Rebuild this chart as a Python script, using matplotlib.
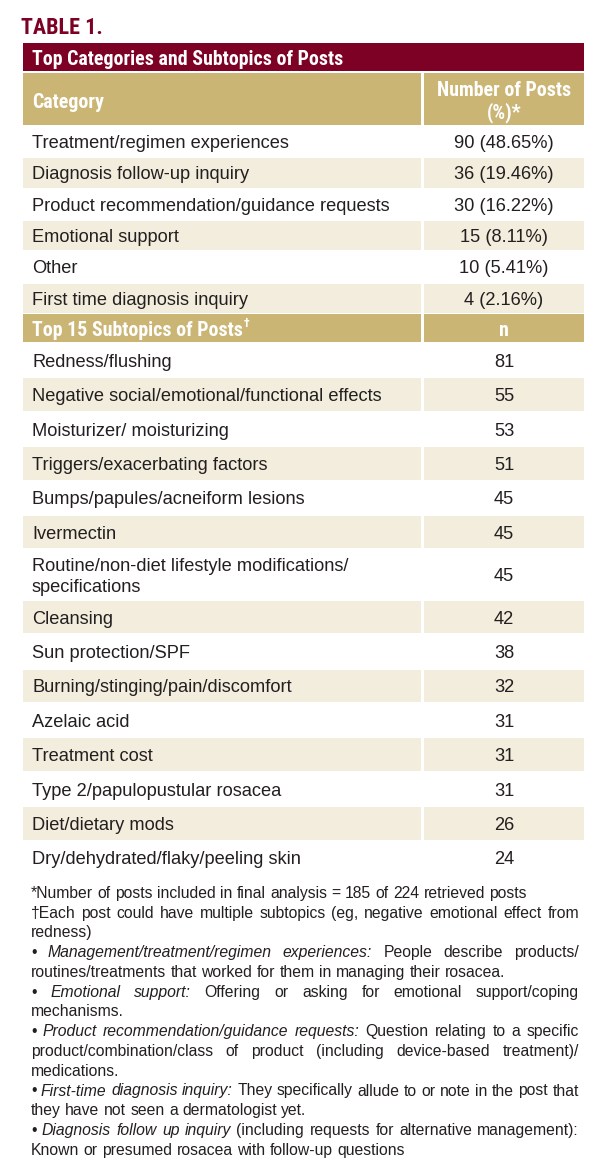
import matplotlib
matplotlib.use("Agg")
import matplotlib.pyplot as plt
from matplotlib import font_manager
from matplotlib.patches import Rectangle

title = "TABLE 1."
table_heading = "Top Categories and Subtopics of Posts"
category_header = ["Category", "Number of Posts", "(%)*"]
categories = [
    "Treatment/regimen experiences",
    "Diagnosis follow-up inquiry",
    "Product recommendation/guidance requests",
    "Emotional support",
    "Other",
    "First time diagnosis inquiry",
]
category_counts = [90, 36, 30, 15, 10, 4]
category_pcts = [48.65, 19.46, 16.22, 8.11, 5.41, 2.16]

subtopic_header = ["Top 15 Subtopics of Posts", "\u2020", "n"]
subtopics = [
    "Redness/flushing",
    "Negative social/emotional/functional effects",
    "Moisturizer/ moisturizing",
    "Triggers/exacerbating factors",
    "Bumps/papules/acneiform lesions",
    "Ivermectin",
    "Routine/non-diet lifestyle modifications/\nspecifications",
    "Cleansing",
    "Sun protection/SPF",
    "Burning/stinging/pain/discomfort",
    "Azelaic acid",
    "Treatment cost",
    "Type 2/papulopustular rosacea",
    "Diet/dietary mods",
    "Dry/dehydrated/flaky/peeling skin",
]
subtopic_counts = [81, 55, 53, 51, 45, 45, 45, 42, 38, 32, 31, 31, 31, 26, 24]

# footnote lines as (segments, justified); segment = (text, style)
footnotes = [
    ([("*Number of posts included in final analysis = 185 of 224 retrieved posts", "normal")], False),
    ([("\u2020Each post could have multiple subtopics (eg, negative emotional effect from", "normal")], True),
    ([("redness)", "normal")], False),
    ([("\u2022", "normal"), ("Management/treatment/regimen experiences:", "italic"),
      ("People describe products/", "normal")], True),
    ([("routines/treatments that worked for them in managing their rosacea.", "normal")], False),
    ([("\u2022", "normal"), ("Emotional support:", "italic"),
      ("Offering or asking for emotional support/coping", "normal")], True),
    ([("mechanisms.", "normal")], False),
    ([("\u2022", "normal"), ("Product recommendation/guidance requests:", "italic"),
      ("Question relating to a specific", "normal")], True),
    ([("product/combination/class of product (including device-based treatment)/", "normal")], True),
    ([("medications.", "normal")], False),
    ([("\u2022", "normal"), ("First-time diagnosis inquiry:", "italic"),
      ("They specifically allude to or note in the post that", "normal")], True),
    ([("they have not seen a dermatologist yet.", "normal")], False),
    ([("\u2022", "normal"), ("Diagnosis follow up inquiry", "italic"),
      ("(including requests for alternative management):", "normal")], True),
    ([("Known or presumed rosacea with follow-up questions", "normal")], False),
]

# ---- style ----
MAROON = "#7d0025"
TAN = "#cbb574"
CREAM = "#f2eddc"
INK = "#231f20"

installed = {f.name for f in font_manager.fontManager.ttflist}
NARROW = next(f for f in ["Liberation Sans Narrow", "Roboto Condensed", "Liberation Sans"]
              if f in installed)
BODY = "Liberation Sans"

fig = plt.figure(figsize=(6, 11.71), dpi=100)
ax = fig.add_axes([0, 0, 1, 1])
ax.set_xlim(0, 600)
ax.set_ylim(1171, 0)
ax.axis("off")
renderer = fig.canvas.get_renderer()


def text_width(s, **kw):
    t = ax.text(0, 0, s, **kw)
    w = t.get_window_extent(renderer).width
    t.remove()
    return w


def fit(s, target, **kw):
    return 10 * target / text_width(s, fontsize=10, **kw)


# table geometry (pixels)
X0, X1 = 23, 584
DIV_L, DIV_R = 421, 424
TXT_X = 32
NUM_X = (DIV_R + X1) / 2

# font sizes fitted to measured widths in the reference
fs_title = fit(title, 82, family=NARROW, weight="bold")
fs_head = fit(table_heading, 311, family=NARROW, weight="bold")
fs_body = fit("Negative social/emotional/functional effects", 351, family=BODY)
fs_note = fit(footnotes[0][0][0][0], 499, family=BODY)

# title
ax.text(21, 25.5, title, family=NARROW, weight="bold", fontsize=fs_title,
        color=MAROON, va="center_baseline", ha="left")

# maroon heading bar
ax.add_patch(Rectangle((X0, 43), X1 - X0, 28, color=MAROON, lw=0))
ax.text(TXT_X, 57.5, table_heading, family=NARROW, weight="bold", fontsize=fs_head,
        color="white", va="center_baseline")


def header_row(y0, h):
    ax.add_patch(Rectangle((X0, y0), DIV_L - X0, h, color=TAN, lw=0))
    ax.add_patch(Rectangle((DIV_R, y0), X1 - DIV_R, h, color=TAN, lw=0))


def body_row(y0, h, shade):
    if shade:
        ax.add_patch(Rectangle((X0, y0 + 1), DIV_L - X0, h - 2, color=CREAM, lw=0))
        ax.add_patch(Rectangle((DIV_R, y0 + 1), X1 - DIV_R, h - 2, color=CREAM, lw=0))


# category header
header_row(73, 52)
ax.text(TXT_X, 100, category_header[0], family=NARROW, weight="bold", fontsize=fs_head,
        color="white", va="center_baseline")
ax.text(NUM_X, 89, category_header[1], family=NARROW, weight="bold", fontsize=fs_head,
        color="white", va="center_baseline", ha="center")
ax.text(NUM_X, 110, category_header[2], family=NARROW, weight="bold", fontsize=fs_head,
        color="white", va="center_baseline", ha="center")

# category rows
y = 126
pitch = 31.3
for i, (cat, n, p) in enumerate(zip(categories, category_counts, category_pcts)):
    body_row(y, pitch, i % 2 == 1)
    yc = y + pitch / 2
    ax.text(TXT_X, yc, cat, family=BODY, fontsize=fs_body, color=INK, va="center_baseline")
    ax.text(NUM_X, yc, f"{n} ({p:.2f}%)", family=BODY, fontsize=fs_body, color=INK,
            va="center_baseline", ha="center")
    y += pitch

# subtopic header
header_row(314, 28)
t = ax.text(TXT_X, 328.5, subtopic_header[0], family=NARROW, weight="bold", fontsize=fs_head,
            color="white", va="center_baseline")
w = t.get_window_extent(renderer).width
ax.text(TXT_X + w + 1, 322, subtopic_header[1], family=NARROW, weight="bold",
        fontsize=fs_head * 0.6, color="white", va="center_baseline")
ax.text(NUM_X, 328.5, subtopic_header[2], family=NARROW, weight="bold", fontsize=fs_head,
        color="white", va="center_baseline", ha="center")

# subtopic rows
y = 343
for i, (topic, n) in enumerate(zip(subtopics, subtopic_counts)):
    lines = topic.split("\n")
    h = 34.4 if len(lines) == 1 else 50.5
    body_row(y, h, i % 2 == 1)
    yc = y + h / 2
    for j, line in enumerate(lines):
        ly = yc + (j - (len(lines) - 1) / 2) * 21
        ax.text(TXT_X, ly, line, family=BODY, fontsize=fs_body, color=INK,
                va="center_baseline")
    ax.text(NUM_X, yc, str(n), family=BODY, fontsize=fs_body, color=INK,
            va="center_baseline", ha="center")
    y += h

# footnotes, justified between NOTE_L and NOTE_R
NOTE_L, NOTE_R = 31, 579
space_w = text_width("x x", family=BODY, fontsize=fs_note) - \
    text_width("xx", family=BODY, fontsize=fs_note)
y = 892
for segments, justify in footnotes:
    words = []
    for seg, style in segments:
        for wd in seg.split(" "):
            if wd:
                words.append((wd, style))
    widths = [text_width(wd, family=BODY, style=st, fontsize=fs_note) for wd, st in words]
    if justify and len(words) > 1:
        gap = (NOTE_R - NOTE_L - sum(widths)) / (len(words) - 1)
    else:
        gap = space_w
    x = NOTE_L
    for (wd, st), wdt in zip(words, widths):
        ax.text(x, y, wd, family=BODY, style=st, fontsize=fs_note, color=INK,
                va="center_baseline", ha="left")
        x += wdt + gap
    y += 19.75

fig.savefig("out.png", dpi=100, facecolor="white")
